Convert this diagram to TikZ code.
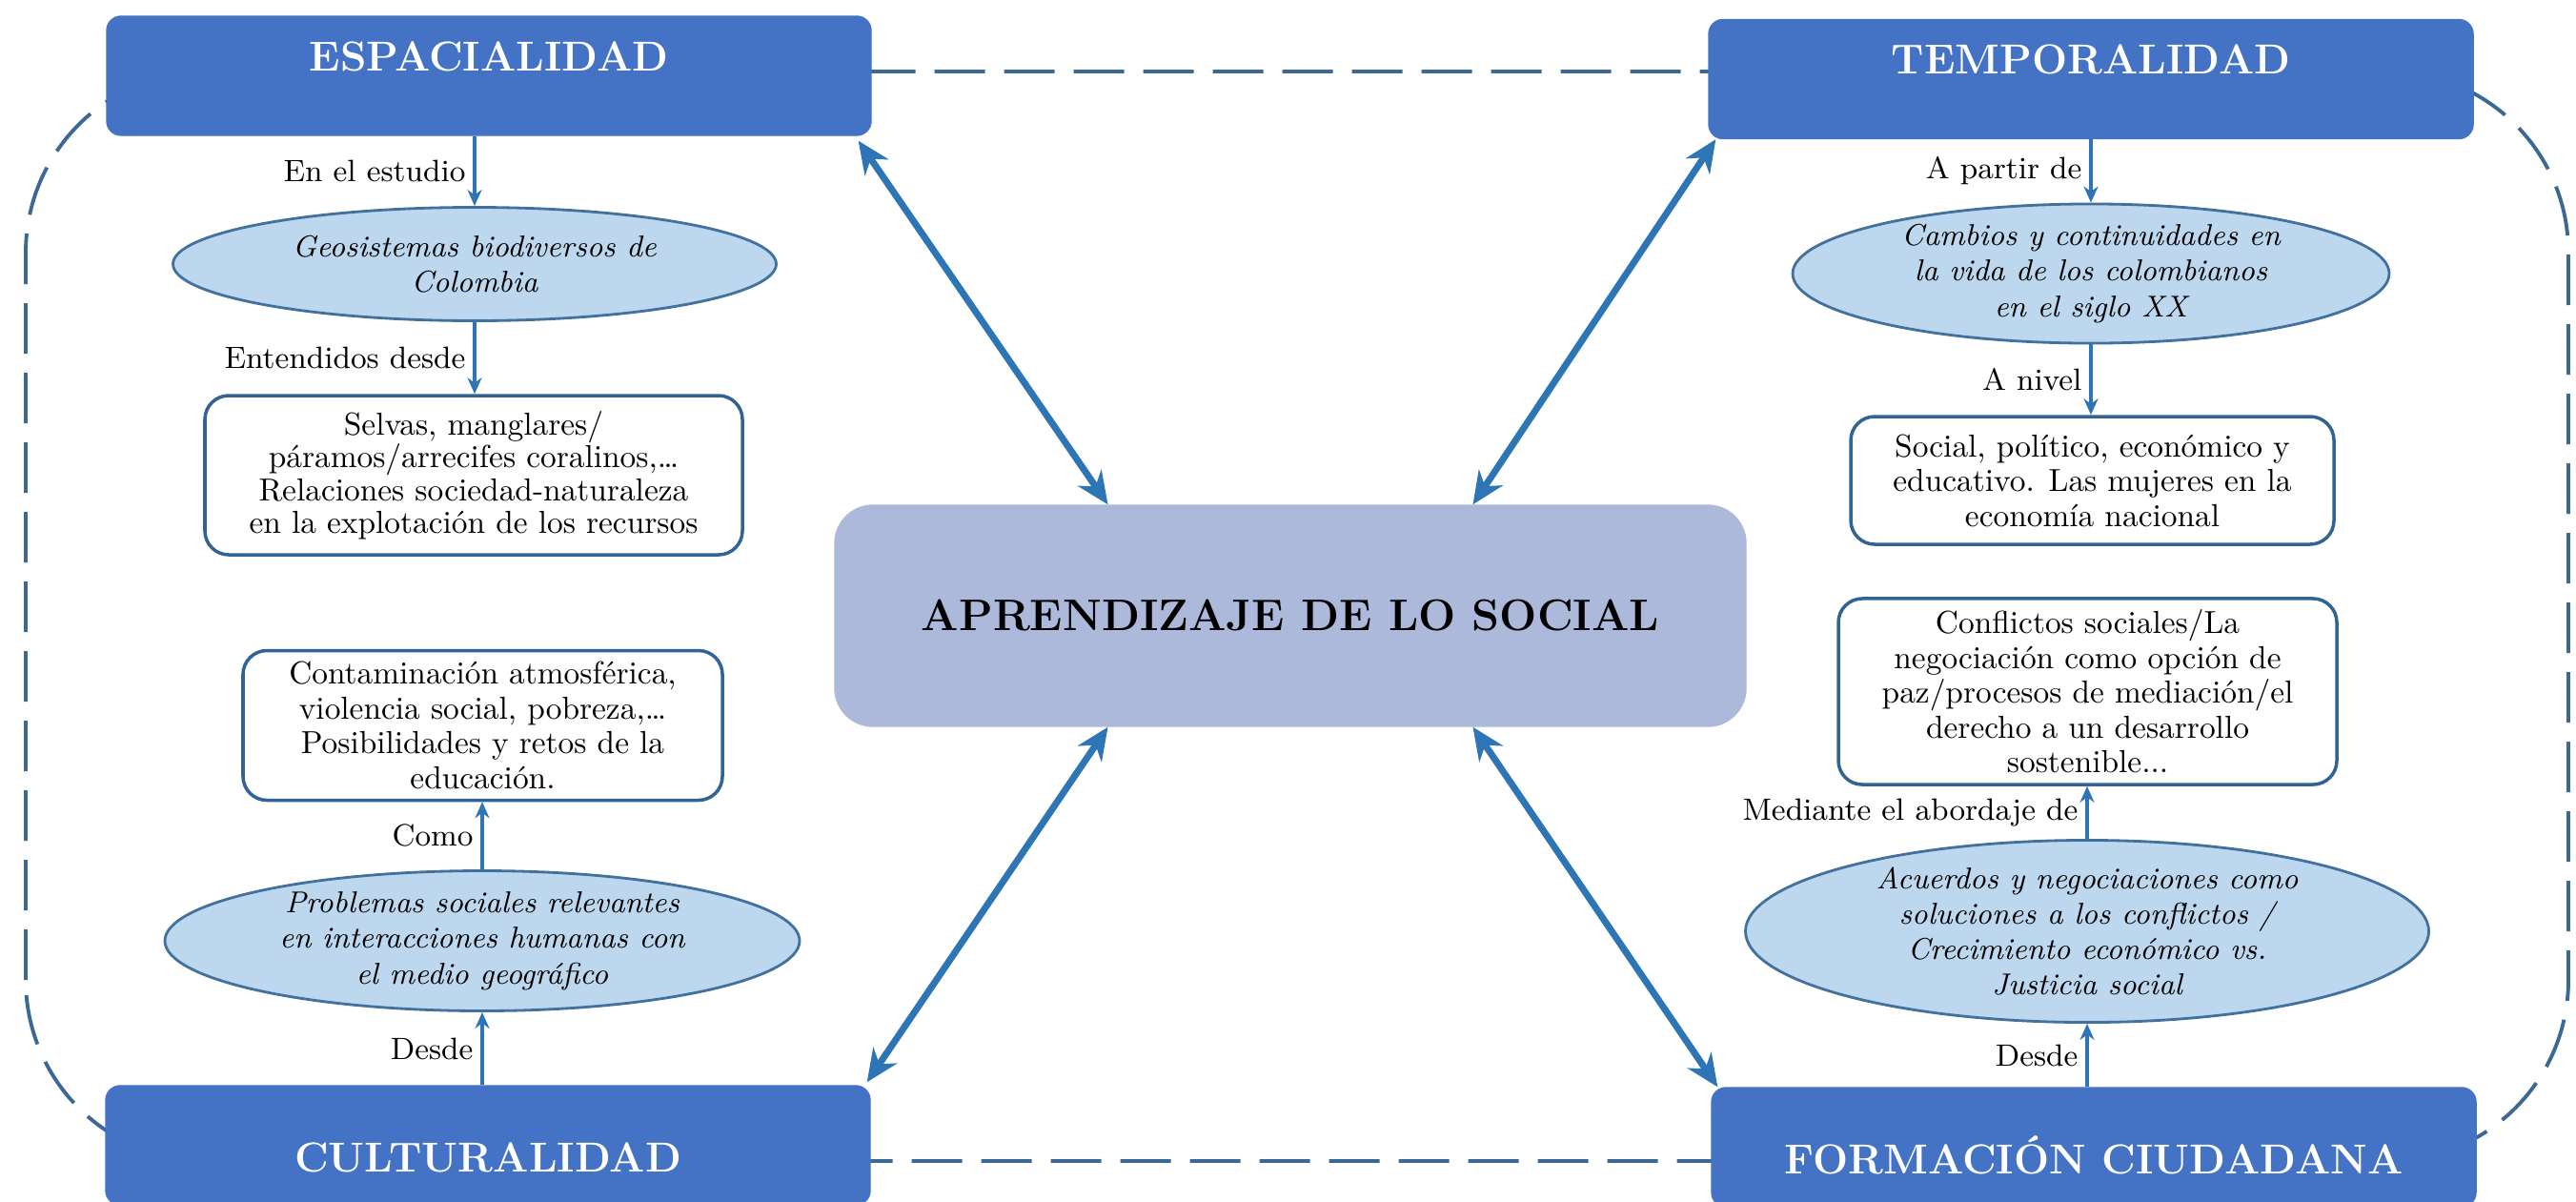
\documentclass[tikz,border=0pt]{standalone}
\usepackage{fontspec}
\usepackage{tikz}
\usepackage{xcolor}
\usetikzlibrary{shapes.geometric, arrows.meta, positioning, calc}

\definecolor{titleblue}{RGB}{68,114,196}
\definecolor{centralblue}{RGB}{172,185,219}
\definecolor{ellfill}{RGB}{189,215,238}
\definecolor{ellborder}{RGB}{65,113,156}
\definecolor{rectborder}{RGB}{49,99,148}
\definecolor{arrowblue}{RGB}{46,117,182}
\definecolor{dashcol}{RGB}{60,104,148}

\begin{document}
\begin{tikzpicture}[
    titlebox/.style={rectangle, rounded corners=0.15cm, fill=titleblue, draw=titleblue,
        minimum width=8.02cm, minimum height=1.25cm, text=white,
        font=\fontsize{12.5}{14}\selectfont\bfseries},
    topbox/.style={titlebox, text height=0.3cm, text depth=0.41cm},
    botbox/.style={titlebox, text height=0.65cm, text depth=0.1cm},
    centralbox/.style={rectangle, rounded corners=0.4cm, fill=centralblue, draw=centralblue,
        minimum width=9.56cm, minimum height=2.32cm,
        font=\fontsize{13.2}{15}\selectfont\bfseries},
    idea/.style={ellipse, fill=ellfill, draw=ellborder, line width=0.8pt, inner sep=0pt,
        align=center, font=\fontsize{9}{10.6}\selectfont\itshape},
    content/.style={rectangle, rounded corners=0.25cm, fill=white, draw=rectborder,
        line width=1pt, align=center, font=\fontsize{9.5}{10.4}\selectfont},
    flow/.style={draw=arrowblue, line width=0.9pt, -{Stealth[length=0.17cm,width=0.15cm]}},
    link/.style={draw=arrowblue, line width=2pt,
        {Stealth[length=0.34cm,width=0.3cm]}-{Stealth[length=0.34cm,width=0.3cm]}},
    lbl/.style={font=\fontsize{9.2}{10}\selectfont, inner sep=0.08cm},
    frame/.style={draw=dashcol, line width=1.1pt, dash pattern=on 0.53cm off 0.2cm,
        rounded corners=1.9cm}
]
\useasboundingbox (0,0) rectangle (27.03,12.60);

% dashed outer loop
\draw[frame] (0.27,0.42) rectangle (26.95,11.85);

% the four dimensions and the centre
\node[topbox] (esp) at (5.13,11.805) {ESPACIALIDAD};
\node[topbox] (temp) at (21.94,11.77) {TEMPORALIDAD};
\node[botbox] (cul) at (5.12,0.585) {CULTURALIDAD};
\node[botbox] (form) at (21.97,0.565) {FORMACIÓN CIUDADANA};
\node[centralbox] (central) at (13.54,6.14) {APRENDIZAJE DE LO SOCIAL};

% left column
\node[idea, minimum width=6.33cm, minimum height=1.19cm] (geo) at (4.98,9.83)
    {Geosistemas biodiversos de\\Colombia};
\node[content, minimum width=5.64cm, minimum height=1.67cm,
    font=\fontsize{9.5}{9.8}\selectfont] (selvas) at (4.97,7.615)
    {Selvas, manglares/\\páramos/arrecifes coralinos,\dots\\Relaciones sociedad-naturaleza\\en la explotación de los recursos};
\node[content, minimum width=5.03cm, minimum height=1.5cm] (contam) at (5.065,4.99)
    {Contaminación atmosférica,\\violencia social, pobreza,\dots\\Posibilidades y retos de la\\educación.};
\node[idea, minimum width=6.66cm, minimum height=1.47cm] (problemas) at (5.06,2.73)
    {Problemas sociales relevantes\\en interacciones humanas con\\el medio geográfico};

% right column
\node[idea, minimum width=6.26cm, minimum height=1.3cm] (cambios) at (21.94,9.73)
    {Cambios y continuidades en\\la vida de los colombianos\\en el siglo XX};
\node[content, minimum width=5.07cm, minimum height=1.34cm] (nivel) at (21.955,7.56)
    {Social, político, económico y\\educativo. Las mujeres en la\\economía nacional};
\node[content, minimum width=5.23cm, minimum height=1.87cm] (conflictos) at (21.905,5.345)
    {Conflictos sociales/La\\negociación como opción de\\paz/procesos de mediación/el\\derecho a un desarrollo\\sostenible...};
\node[idea, minimum width=7.17cm, minimum height=1.75cm] (acuerdos) at (21.90,2.83)
    {Acuerdos y negociaciones como\\soluciones a los conflictos /\\Crecimiento económico vs.\\Justicia social};

% labelled arrows
\draw[flow] (esp.south -| geo.north) -- node[lbl, left] {En el estudio} (geo.north);
\draw[flow] (geo.south) -- node[lbl, left] {Entendidos desde} (geo.south |- selvas.north);
\draw[flow] (problemas.north) -- node[lbl, left] {Como} (problemas.north |- contam.south);
\draw[flow] (cul.north -| problemas.south) -- node[lbl, left] {Desde} (problemas.south);
\draw[flow] (temp.south -| cambios.north) -- node[lbl, left] {A partir de} (cambios.north);
\draw[flow] (cambios.south) -- node[lbl, left] {A nivel} (cambios.south |- nivel.north);
\draw[flow] (acuerdos.north) -- node[lbl, left] {Mediante el abordaje de} (acuerdos.north |- conflictos.south);
\draw[flow] (form.north -| acuerdos.south) -- node[lbl, left] {Desde} (acuerdos.south);

% links to the centre
\draw[link] ($(esp.south east)+(-0.14,-0.05)$) -- ($(central.north west)!0.3!(central.north east)$);
\draw[link] ($(temp.south west)+(0.08,0)$) -- ($(central.north west)!0.7!(central.north east)$);
\draw[link] ($(cul.north east)+(-0.04,0.03)$) -- ($(central.south west)!0.3!(central.south east)$);
\draw[link] ($(form.north west)+(0.07,0)$) -- ($(central.south west)!0.7!(central.south east)$);
\end{tikzpicture}
\end{document}
